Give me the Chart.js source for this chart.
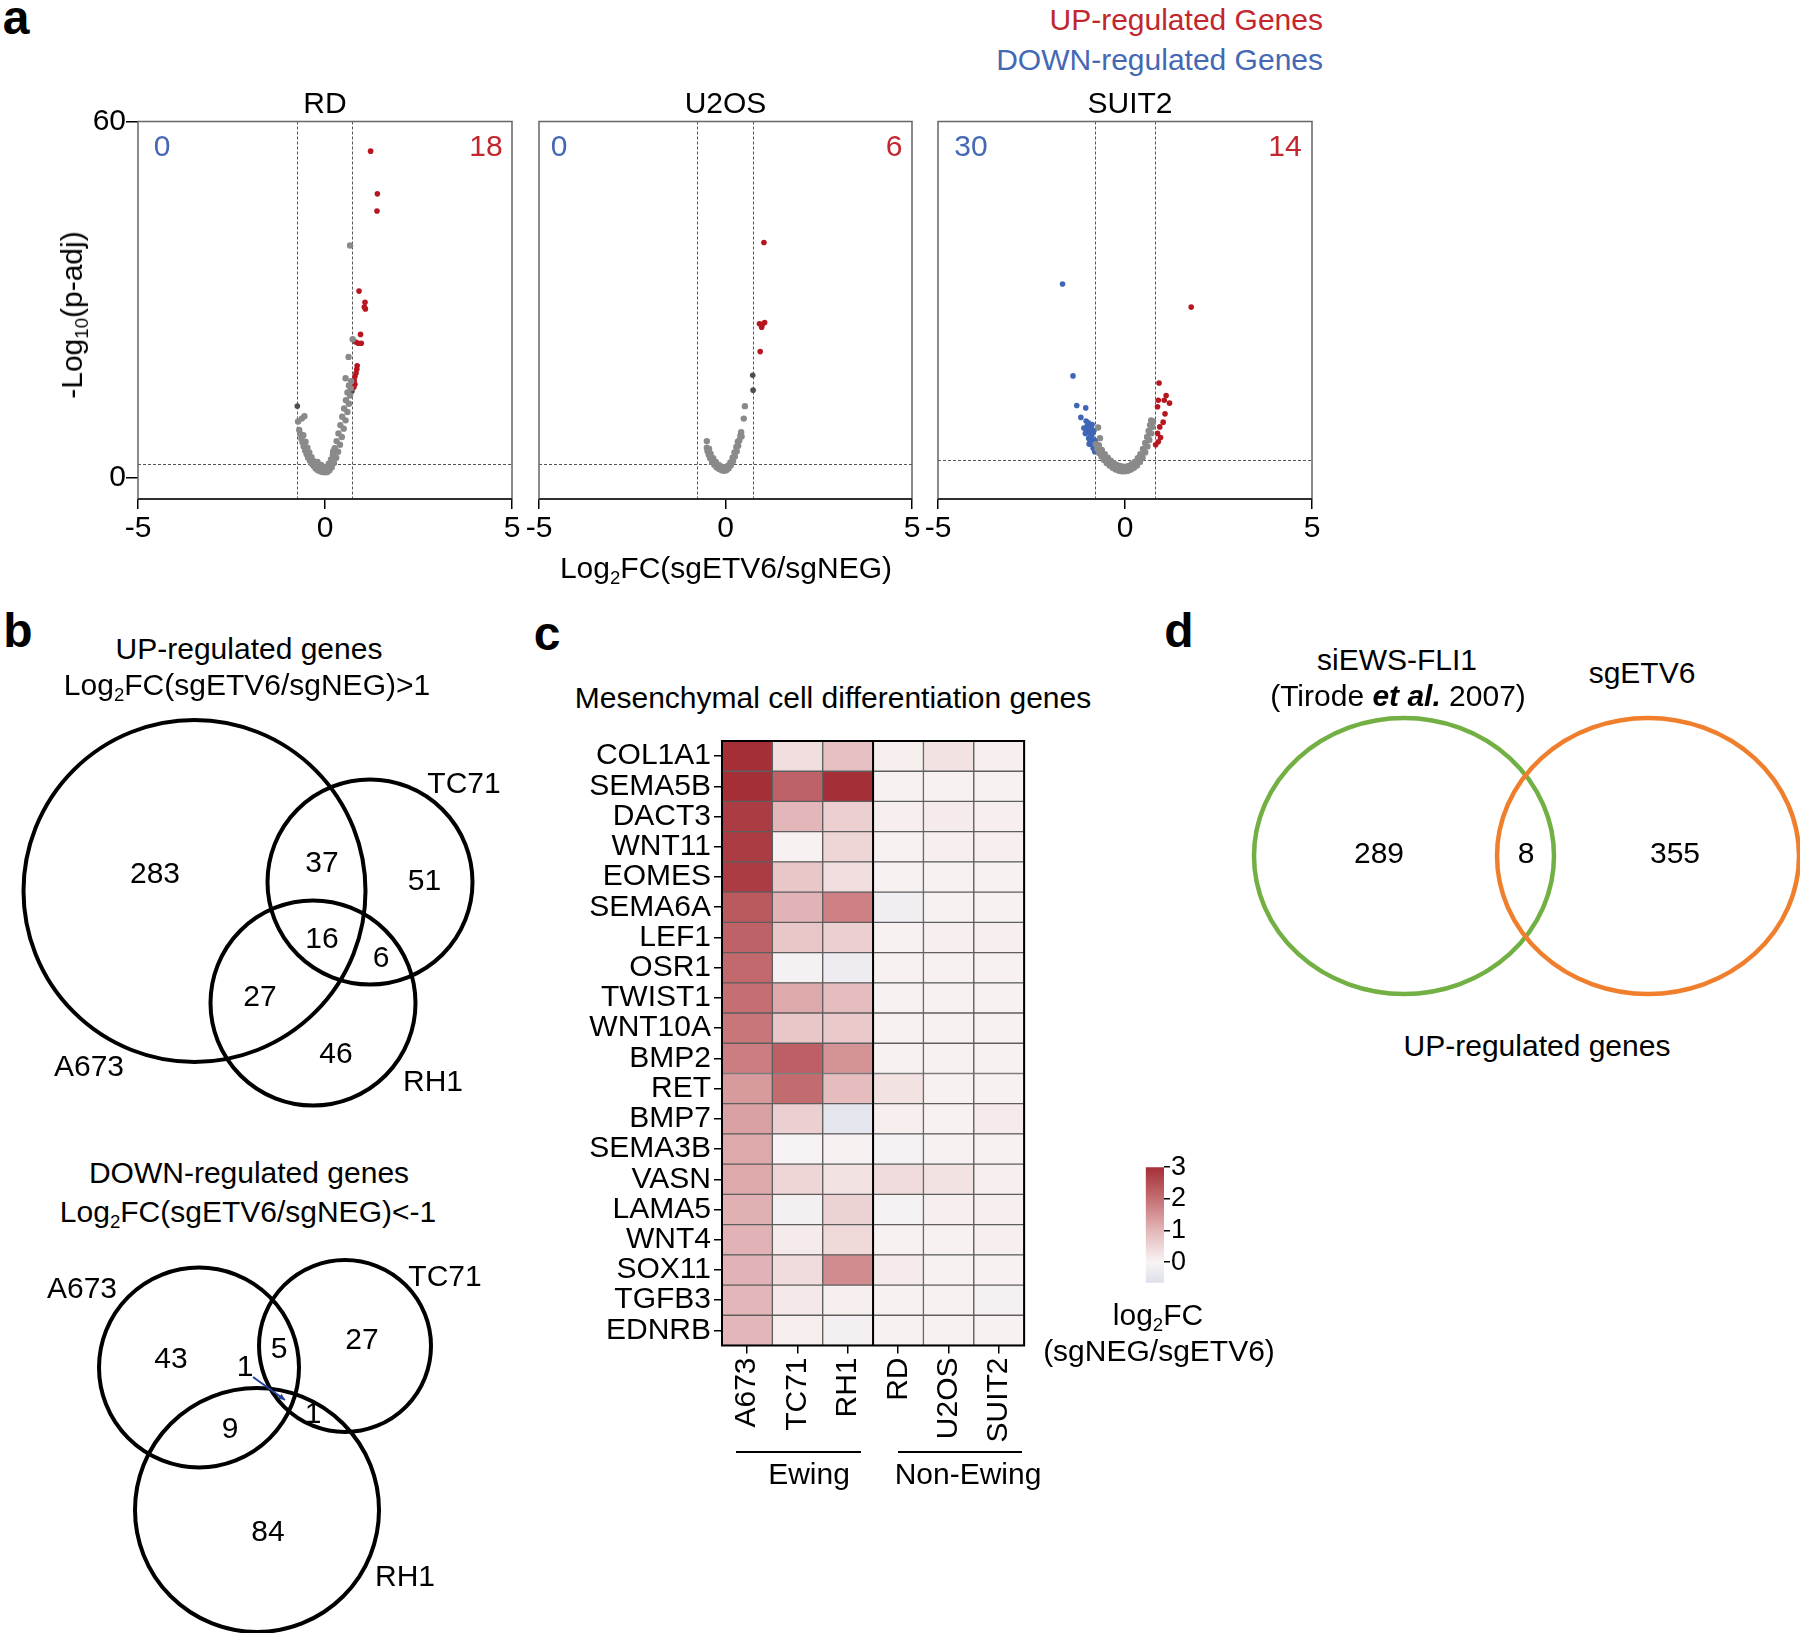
<!DOCTYPE html>
<html>
<head>
<meta charset="utf-8">
<script src="https://cdn.jsdelivr.net/npm/chart.js@4.4.1/dist/chart.umd.min.js"></script>
<style>
  body { margin: 0; background: #fff; }
  #fig { position: relative; width: 1800px; height: 1633px; overflow: hidden; background: #fff; }
  #fig canvas { position: absolute; }
  .t { position: absolute; transform: translate(-50%, -50%); white-space: nowrap;
       font: 30px "Liberation Sans", Arial, Helvetica, sans-serif; line-height: 1; color: #000; }
  .t sub { font-size: 0.62em; vertical-align: -0.3em; line-height: 0; }
  .rule { position: absolute; height: 0; border-top: 2px solid #000; }
</style>
</head>
<body>
<div id="fig">
  <canvas id="vRD" width="460" height="460" style="left:70px;top:100px"></canvas>
  <canvas id="vU2OS" width="430" height="460" style="left:500px;top:100px"></canvas>
  <canvas id="vSUIT2" width="430" height="460" style="left:900px;top:100px"></canvas>
  <canvas id="vennUp" width="520" height="420" style="left:0px;top:700px"></canvas>
  <canvas id="vennDown" width="520" height="393" style="left:0px;top:1240px"></canvas>
  <canvas id="heat" width="480" height="740" style="left:560px;top:720px"></canvas>
  <canvas id="cbar" width="90" height="150" style="left:1140px;top:1150px"></canvas>
  <canvas id="vennD" width="560" height="320" style="left:1240px;top:700px"></canvas>
</div>
<script>
// ---- panel a: volcano plots, log2FC vs -log10(p-adj)
const volcanoNames = ['RD', 'U2OS', 'SUIT2'];
const downCounts = [0, 0, 30];
const upCounts = [18, 6, 14];
const cutoffX = [[-0.76, 0.72], [-0.77, 0.73], [-0.79, 0.79]];
const cutoffY = [2.3, 2.2, 2.9];

const rdGrey = [[-0.72,9.4],[-0.62,9.9],[-0.55,10.3],[-0.69,8.0],[-0.66,7.3],[-0.63,6.5],[-0.60,5.9],[-0.57,5.2],[-0.53,4.5],
  [-0.49,3.9],[-0.45,3.3],[-0.40,2.8],[-0.35,2.3],[-0.30,1.9],[-0.25,1.5],[-0.19,1.2],[-0.13,1.0],[-0.07,0.9],[0.00,0.85],
  [-0.58,7.1],[-0.52,6.0],[-0.47,5.0],[-0.42,4.2],[-0.36,3.4],[-0.30,2.7],[-0.24,2.2],[-0.18,1.8],[-0.11,1.5],[-0.05,1.3],
  [-0.20,2.6],[-0.10,2.1],[0.00,1.7],[0.08,1.4],[0.02,1.2],
  [0.06,0.9],[0.12,1.2],[0.18,1.7],[0.24,2.4],[0.30,3.3],[0.35,4.3],[0.40,5.5],[0.45,6.8],[0.50,8.2],[0.55,9.6],[0.60,11.0],
  [0.64,12.4],[0.67,13.8],[0.69,15.0],[0.70,16.2],
  [0.10,2.3],[0.16,3.0],[0.21,3.8],[0.26,4.9],[0.31,6.1],[0.36,7.4],[0.41,8.8],[0.46,10.2],[0.51,11.6],[0.56,13.0],[0.60,14.3],[0.64,15.5],
  [0.22,4.4],[0.55,16.7],[0.63,20.3],[0.74,23.3],[0.67,39.1]];
const rdDark = [[-0.74,12.0],[0.72,14.5]];
const rdUp = [[1.22,55.0],[1.40,47.8],[1.39,44.9],[0.91,31.4],[1.07,29.5],[1.05,28.7],[1.08,28.4],[0.95,24.1],[0.82,22.8],
  [0.89,22.6],[0.97,22.6],[0.86,18.8],[0.85,18.2],[0.83,17.6],[0.80,17.0],[0.78,16.3],[0.80,15.7],[0.77,15.2]];
const rdDown = [];

const u2osGrey = [[-0.50,6.1],[-0.50,5.0],[-0.48,4.4],[-0.45,3.8],[-0.41,3.2],[-0.36,2.6],[-0.30,2.1],[-0.24,1.7],[-0.17,1.4],
  [-0.10,1.2],[-0.04,1.1],[0.02,1.2],[0.08,1.5],[0.14,2.0],[0.20,2.7],[0.25,3.5],[0.30,4.4],[0.34,5.3],[0.37,6.2],[0.40,7.0],[0.42,7.6],
  [-0.44,4.8],[-0.40,4.0],[-0.33,3.2],[-0.26,2.6],[-0.18,2.1],[-0.10,1.8],[-0.02,1.7],[0.06,1.9],[0.13,2.5],[0.19,3.3],[0.24,4.2],
  [0.29,5.1],[0.33,6.0],[0.43,6.9],[0.49,9.9],[0.52,12.0]];
const u2osDark = [[0.73,17.2],[0.74,14.7]];
const u2osUp = [[1.03,39.6],[0.91,25.9],[1.05,26.1],[0.97,25.3],[0.99,25.8],[0.93,21.2]];
const u2osDown = [];

const suit2Grey = [[-0.78,5.6],[-0.74,4.8],[-0.69,4.1],[-0.63,3.5],[-0.56,2.9],[-0.49,2.4],[-0.41,2.0],[-0.33,1.6],[-0.25,1.3],
  [-0.16,1.1],[-0.08,1.0],[0.00,1.0],
  [-0.70,5.4],[-0.62,4.6],[-0.54,3.9],[-0.46,3.3],[-0.38,2.8],[-0.30,2.4],[-0.22,2.1],[-0.14,1.9],[-0.06,1.8],[0.02,1.8],
  [0.08,1.1],[0.16,1.3],[0.24,1.6],[0.32,2.0],[0.40,2.6],[0.47,3.3],[0.54,4.2],[0.60,5.2],[0.65,6.3],[0.70,7.4],[0.73,8.5],[0.75,9.4],
  [0.10,1.9],[0.18,2.2],[0.26,2.6],[0.34,3.2],[0.41,3.9],[0.48,4.8],[0.54,5.8],[0.59,6.8],[0.63,7.8],[0.67,8.8],[0.70,9.6],
  [-0.72,8.4],[-0.67,6.6]];
const suit2Dark = [];
const suit2Up = [[1.77,28.7],[0.91,15.9],[1.10,13.8],[0.89,13.0],[1.05,13.0],[1.19,12.5],[0.87,11.9],[1.07,10.7],[1.02,9.3],
  [0.93,8.5],[0.87,7.4],[0.95,6.7],[0.89,6.0],[0.82,5.5]];
const suit2Down = [[-1.67,32.6],[-1.39,17.1],[-1.29,12.1],[-1.05,11.7],[-1.18,10.1],[-1.04,9.5],[-1.01,8.7],[-0.88,8.9],[-1.06,7.4],
  [-0.94,7.7],[-0.89,6.9],[-0.93,6.0],[-0.82,5.7],[-1.00,8.1],[-0.97,6.6],[-0.86,7.5],[-0.84,6.3],[-0.80,4.6],[-0.82,5.0],[-0.92,7.2],
  [-0.98,9.2],[-0.90,8.2],[-0.87,5.4],[-0.96,5.6],[-1.10,8.3],[-0.83,7.9],[-0.79,6.2],[-0.85,4.9],[-0.81,4.3],[-0.95,6.4]];

// ---- panel b: Venn counts (A only, A&T, T only, A&T&R, T&R, A&R, R only)
const vennSets = ['A673', 'TC71', 'RH1'];
const vennUpCounts = [283, 37, 51, 16, 6, 27, 46];
const vennDownCounts = [43, 5, 27, 1, 1, 9, 84];

// ---- panel c: heatmap log2FC
const genes = ['COL1A1','SEMA5B','DACT3','WNT11','EOMES','SEMA6A','LEF1','OSR1','TWIST1','WNT10A',
  'BMP2','RET','BMP7','SEMA3B','VASN','LAMA5','WNT4','SOX11','TGFB3','EDNRB'];
const heatCols = ['A673', 'TC71', 'RH1', 'RD', 'U2OS', 'SUIT2'];
const fcA673  = [3.0, 3.0, 2.8, 2.8, 2.8, 2.35, 2.2, 2.1, 2.0, 1.9, 1.8, 1.4, 1.3, 1.2, 1.2, 1.1, 1.05, 1.05, 1.0, 1.0];
const fcTC71  = [0.35, 2.2, 1.0, 0.05, 0.75, 1.05, 0.75, -0.1, 1.2, 0.75, 2.25, 2.05, 0.6, -0.05, 0.5, -0.12, 0.15, 0.4, 0.2, 0.1];
const fcRH1   = [0.85, 3.0, 0.6, 0.5, 0.35, 1.75, 0.6, -0.25, 0.9, 0.7, 1.5, 0.9, -0.45, 0.05, 0.3, 0.55, 0.45, 1.6, 0.1, -0.12];
const fcRD    = [0.1, 0.05, 0.1, 0.05, 0.05, -0.2, 0.05, 0.05, 0.05, 0.05, 0.05, 0.3, 0.1, -0.08, 0.4, -0.08, 0.05, 0.15, 0.05, 0.05];
const fcU2OS  = [0.3, 0.05, 0.15, 0.1, 0.05, 0.05, 0.1, 0.05, 0.05, 0.05, 0.05, 0.05, 0.05, 0.05, 0.3, 0.1, 0.05, 0.05, 0.05, 0.05];
const fcSUIT2 = [0.1, 0.05, 0.1, 0.1, 0.05, 0.05, 0.1, 0.05, 0.05, 0.05, 0.05, 0.05, 0.15, 0.05, 0.1, 0.1, 0.1, 0.05, -0.1, 0.05];
const cbTicks = [0, 1, 2, 3];
const cbRange = [-0.65, 3];

// ---- panel d
const vennDSets = ['siEWS-FLI1', 'sgETV6'];
const vennDCounts = [289, 8, 355];

// ---------------------------------------------------------------
const FONT = '"Liberation Sans", Arial, Helvetica, sans-serif';
Chart.defaults.font.family = FONT;
Chart.defaults.font.size = 30;
Chart.defaults.color = '#000';
const RED = '#b8161f', BLUE = '#3f66b6', GREY = '#8a8a8a', DARK = '#4e4e4e';
const fig = document.getElementById('fig');
const pts = a => a.map(p => ({ x: p[0], y: p[1] }));

function label(x, y, html, css) {
  const d = document.createElement('div');
  d.className = 't';
  d.innerHTML = html;
  d.style.left = x + 'px';
  d.style.top = y + 'px';
  Object.assign(d.style, css || {});
  fig.appendChild(d);
}

// dashed cut-offs + box
const frame = (vx, hy) => ({
  id: 'frame',
  beforeDatasetsDraw(chart) {
    const { ctx, chartArea: a, scales: { x, y } } = chart;
    ctx.save();
    ctx.setLineDash([3, 2]);
    ctx.strokeStyle = '#555';
    ctx.lineWidth = 1;
    ctx.beginPath();
    vx.forEach(v => {
      const px = Math.round(x.getPixelForValue(v)) + 0.5;
      ctx.moveTo(px, a.top); ctx.lineTo(px, a.bottom);
    });
    const py = Math.round(y.getPixelForValue(hy)) + 0.5;
    ctx.moveTo(a.left, py); ctx.lineTo(a.right, py);
    ctx.stroke();
    ctx.setLineDash([]);
    ctx.strokeStyle = '#666';
    ctx.lineWidth = 1.5;
    ctx.strokeRect(a.left, a.top, a.width, a.height);
    ctx.strokeStyle = '#111';
    ctx.beginPath(); ctx.moveTo(a.left, a.bottom); ctx.lineTo(a.right, a.bottom); ctx.stroke();
    ctx.restore();
  }
});

function volcano(id, i, grey, dark, up, down, padL, showY) {
  new Chart(document.getElementById(id), {
    type: 'scatter',
    data: {
      datasets: [
        { data: pts(grey), backgroundColor: GREY, pointRadius: 3.2, borderWidth: 0 },
        { data: pts(dark), backgroundColor: DARK, pointRadius: 2.8, borderWidth: 0 },
        { data: pts(down), backgroundColor: BLUE, pointRadius: 2.8, borderWidth: 0 },
        { data: pts(up), backgroundColor: RED, pointRadius: 2.8, borderWidth: 0 }
      ]
    },
    options: {
      responsive: false, animation: false, events: [],
      layout: { padding: { left: padL, right: 18, top: 21.5, bottom: 0 } },
      plugins: { legend: { display: false }, tooltip: { enabled: false } },
      scales: {
        x: {
          type: 'linear', min: -5, max: 5,
          afterBuildTicks: s => { s.ticks = [-5, 0, 5].map(v => ({ value: v })); },
          afterFit: s => { s.height = 61; },
          grid: { drawOnChartArea: false, tickLength: 10, color: '#000', lineWidth: 1.5 },
          border: { display: false },
          ticks: { padding: 2, maxRotation: 0, font: { size: 30 } }
        },
        y: {
          display: showY, min: -3.66, max: 60,
          afterBuildTicks: s => { s.ticks = [0, 60].map(v => ({ value: v })); },
          afterFit: s => { s.width = showY ? 68 : 0; },
          grid: { drawOnChartArea: false, tickLength: 12, color: '#000', lineWidth: 1.5 },
          border: { display: false },
          ticks: { padding: 0, font: { size: 30 } }
        }
      }
    },
    plugins: [frame(cutoffX[i], cutoffY[i])]
  });
}

volcano('vRD', 0, rdGrey, rdDark, rdUp, rdDown, 0, true);
volcano('vU2OS', 1, u2osGrey, u2osDark, u2osUp, u2osDown, 39, false);
volcano('vSUIT2', 2, suit2Grey, suit2Dark, suit2Up, suit2Down, 38, false);

// ---- Venn diagrams (layout in local canvas units)
function venn(id, w, h, lay, counts, names, colors, lw) {
  const plug = {
    id: 'venn',
    afterDatasetsDraw(chart) {
      const { ctx, scales: { x, y } } = chart;
      ctx.save();
      lay.circles.forEach((c, i) => {
        const cx = x.getPixelForValue(c[0]), cy = y.getPixelForValue(c[1]);
        const rx = Math.abs(x.getPixelForValue(c[0] + c[2]) - cx);
        const ry = Math.abs(y.getPixelForValue(c[1] + (c[3] || c[2])) - cy);
        ctx.beginPath();
        ctx.ellipse(cx, cy, rx, ry, 0, 0, Math.PI * 2);
        ctx.lineWidth = lw;
        ctx.strokeStyle = colors[i];
        ctx.stroke();
      });
      if (lay.arrow) {
        const [a, b] = lay.arrow;
        const x0 = x.getPixelForValue(a[0]), y0 = y.getPixelForValue(a[1]);
        const x1 = x.getPixelForValue(b[0]), y1 = y.getPixelForValue(b[1]);
        const ang = Math.atan2(y1 - y0, x1 - x0);
        ctx.strokeStyle = '#23409a'; ctx.fillStyle = '#23409a'; ctx.lineWidth = 2;
        ctx.beginPath(); ctx.moveTo(x0, y0); ctx.lineTo(x1, y1); ctx.stroke();
        ctx.beginPath();
        ctx.moveTo(x1, y1);
        ctx.lineTo(x1 - 7 * Math.cos(ang - 0.45), y1 - 7 * Math.sin(ang - 0.45));
        ctx.lineTo(x1 - 7 * Math.cos(ang + 0.45), y1 - 7 * Math.sin(ang + 0.45));
        ctx.closePath(); ctx.fill();
      }
      ctx.fillStyle = '#000';
      ctx.textAlign = 'center';
      ctx.textBaseline = 'middle';
      ctx.font = '30px ' + FONT;
      counts.forEach((v, i) => {
        const p = lay.countPos[i];
        ctx.fillText(String(v), x.getPixelForValue(p[0]), y.getPixelForValue(p[1]));
      });
      (names || []).forEach((n, i) => {
        const p = lay.namePos[i];
        ctx.fillText(n, x.getPixelForValue(p[0]), y.getPixelForValue(p[1]));
      });
      ctx.restore();
    }
  };
  new Chart(document.getElementById(id), {
    type: 'scatter',
    data: { datasets: [] },
    options: {
      responsive: false, animation: false, events: [],
      layout: { padding: 0 },
      plugins: { legend: { display: false }, tooltip: { enabled: false } },
      scales: {
        x: { type: 'linear', display: false, min: 0, max: w },
        y: { type: 'linear', display: false, min: 0, max: h, reverse: true }
      }
    },
    plugins: [plug]
  });
}

venn('vennUp', 520, 420, {
  circles: [[194.5, 191, 171], [370, 182, 102.5], [313, 303, 102.5]],
  countPos: [[155, 175], [322, 164], [424.5, 182], [322, 240], [381, 259], [260, 298], [336, 355]],
  namePos: [[89, 368], [464, 85], [433, 383]]
}, vennUpCounts, vennSets, ['#000', '#000', '#000'], 4);

venn('vennDown', 520, 393, {
  circles: [[199, 127.5, 100], [345, 106, 86], [257, 270, 122]],
  countPos: [[171, 120], [279, 110], [362, 101], [245, 128], [313, 175], [230, 190], [268, 293]],
  namePos: [[82, 50], [445, 38], [405, 338]],
  arrow: [[253, 137], [285, 160]]
}, vennDownCounts, vennSets, ['#000', '#000', '#000'], 4);

venn('vennD', 560, 320, {
  circles: [[164, 156, 150, 138], [408, 156, 151, 138]],
  countPos: [[139, 155], [286, 155], [435, 155]]
}, vennDCounts, null, ['#72b043', '#ef7f2d'], 4.5);

// ---- heatmap
const fcByCol = [fcA673, fcTC71, fcRH1, fcRD, fcU2OS, fcSUIT2];
const stops = [[-0.65, [220, 224, 234]], [0, [249, 244, 244]], [1, [227, 183, 185]], [2, [197, 111, 115]], [3, [165, 47, 55]]];
function heatColor(v) {
  v = Math.max(stops[0][0], Math.min(3, v));
  for (let k = 1; k < stops.length; k++) {
    if (v <= stops[k][0]) {
      const [v0, c0] = stops[k - 1], [v1, c1] = stops[k];
      const t = (v - v0) / (v1 - v0);
      return 'rgb(' + c0.map((c, j) => Math.round(c + (c1[j] - c) * t)).join(',') + ')';
    }
  }
  return 'rgb(165,47,55)';
}

new Chart(document.getElementById('heat'), {
  type: 'bar',
  data: {
    labels: heatCols,
    datasets: genes.map((g, gi) => ({
      label: g,
      data: heatCols.map(() => 1),
      backgroundColor: fcByCol.map(col => heatColor(col[gi])),
      borderColor: '#5e5e5e', borderWidth: 1, borderSkipped: false,
      barPercentage: 1, categoryPercentage: 1
    })).reverse()
  },
  options: {
    responsive: false, animation: false, events: [],
    layout: { padding: { left: 0, right: 12.5, top: 17.5, bottom: 0 } },
    plugins: { legend: { display: false }, tooltip: { enabled: false } },
    scales: {
      x: {
        stacked: true,
        afterFit: s => { s.height = 114.5; },
        grid: { offset: false, drawOnChartArea: false, tickLength: 8, color: '#000', lineWidth: 1.5 },
        border: { display: false },
        ticks: { autoSkip: false, minRotation: 90, maxRotation: 90, padding: 4, font: { size: 30 } }
      },
      y: {
        stacked: true, min: 0, max: genes.length,
        afterBuildTicks: s => { s.ticks = genes.map((g, i) => ({ value: genes.length - i - 0.5 })); },
        afterFit: s => { s.width = 162; },
        grid: { drawOnChartArea: false, tickLength: 8, color: '#000', lineWidth: 1.5 },
        border: { display: false },
        ticks: { autoSkip: false, padding: 3, font: { size: 30 },
          callback: v => genes[Math.round(genes.length - 0.5 - v)] }
      }
    }
  },
  plugins: [{
    id: 'heatFrame',
    afterDatasetsDraw(chart) {
      const { ctx, chartArea: a, scales: { x } } = chart;
      const split = (x.getPixelForValue(2) + x.getPixelForValue(3)) / 2;
      ctx.save();
      ctx.strokeStyle = '#000';
      ctx.lineWidth = 2;
      ctx.strokeRect(a.left, a.top, a.width, a.height);
      ctx.beginPath(); ctx.moveTo(split, a.top); ctx.lineTo(split, a.bottom); ctx.stroke();
      ctx.restore();
    }
  }]
});

// colour bar
new Chart(document.getElementById('cbar'), {
  type: 'bar',
  data: {
    labels: [''],
    datasets: [{
      data: [cbRange],
      borderWidth: 0, barPercentage: 1, categoryPercentage: 1,
      backgroundColor: c => {
        const ch = c.chart;
        if (!ch.chartArea) return '#eee';
        const y = ch.scales.y;
        const g = ch.ctx.createLinearGradient(0, y.getPixelForValue(cbRange[0]), 0, y.getPixelForValue(cbRange[1]));
        stops.forEach(s => g.addColorStop((s[0] - cbRange[0]) / (cbRange[1] - cbRange[0]), 'rgb(' + s[1].join(',') + ')'));
        return g;
      }
    }]
  },
  options: {
    responsive: false, animation: false, events: [],
    layout: { padding: { left: 5.7, right: 0, top: 14, bottom: 15 } },
    plugins: { legend: { display: false }, tooltip: { enabled: false } },
    scales: {
      x: { display: false },
      y: {
        position: 'right', min: cbRange[0], max: cbRange[1],
        afterBuildTicks: s => { s.ticks = cbTicks.map(v => ({ value: v })); },
        afterFit: s => { s.width = 66; },
        grid: { drawOnChartArea: false, tickLength: 6, color: '#000', lineWidth: 1.5 },
        border: { display: false },
        ticks: { padding: 1, font: { size: 27 } }
      }
    }
  }
});

// ---- text
const L2 = 'Log<sub>2</sub>FC(sgETV6/sgNEG)';
label(16, 18, 'a', { fontWeight: 'bold', fontSize: '48px' });
label(18, 631, 'b', { fontWeight: 'bold', fontSize: '48px' });
label(547, 634, 'c', { fontWeight: 'bold', fontSize: '48px' });
label(1179, 631, 'd', { fontWeight: 'bold', fontSize: '48px' });

label(1323, 20, 'UP-regulated Genes', { color: '#c1272d', transform: 'translate(-100%,-50%)' });
label(1323, 60, 'DOWN-regulated Genes', { color: '#4468b4', transform: 'translate(-100%,-50%)' });
[325, 725.5, 1130].forEach((x, i) => label(x, 103, volcanoNames[i]));
[[162, 486], [559, 894], [971, 1285]].forEach((p, i) => {
  label(p[0], 146, String(downCounts[i]), { color: '#4468b4' });
  label(p[1], 146, String(upCounts[i]), { color: '#c1272d' });
});
label(726, 568, L2);
label(72, 315, '-Log<sub>10</sub>(p-adj)', { transform: 'translate(-50%,-50%) rotate(-90deg)' });

label(249, 649, 'UP-regulated genes');
label(247, 685, L2 + '&gt;1');
label(249, 1173, 'DOWN-regulated genes');
label(248, 1212, L2 + '&lt;-1');

label(833, 698, 'Mesenchymal cell differentiation genes');
[[736, 125], [898, 124]].forEach(r => {
  const d = document.createElement('div');
  d.className = 'rule';
  d.style.left = r[0] + 'px'; d.style.top = '1451px'; d.style.width = r[1] + 'px';
  fig.appendChild(d);
});
label(809, 1474, 'Ewing');
label(968, 1474, 'Non-Ewing');
label(1158, 1315, 'log<sub>2</sub>FC');
label(1159, 1351, '(sgNEG/sgETV6)');

label(1397, 660, vennDSets[0]);
label(1398, 696, '(Tirode <b><i>et al.</i></b> 2007)');
label(1642, 673, vennDSets[1]);
label(1537, 1046, 'UP-regulated genes');
</script>
</body>
</html>
